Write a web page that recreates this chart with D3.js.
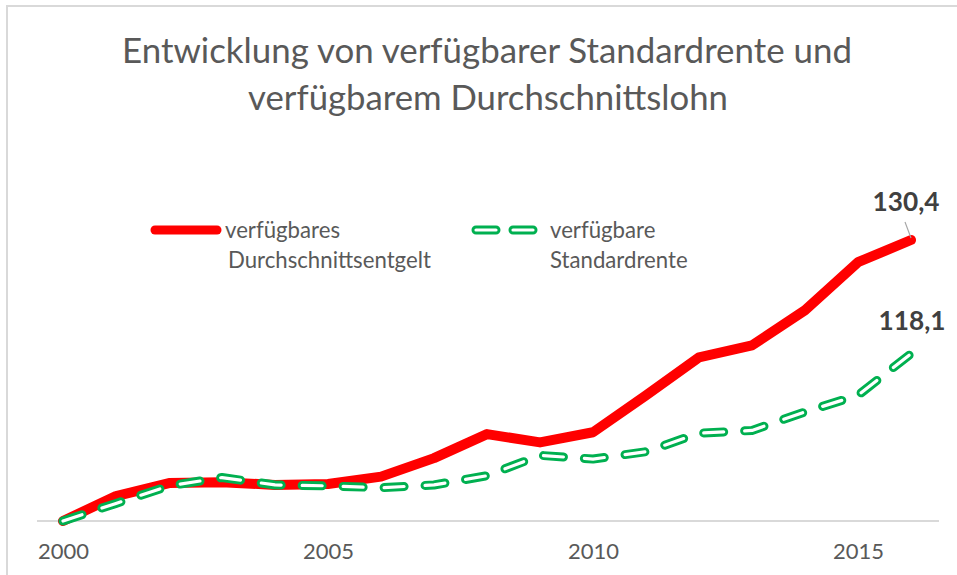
<!DOCTYPE html>
<html>
<head>
<meta charset="utf-8">
<script src="https://cdn.jsdelivr.net/npm/d3@7"></script>
<style>
  html, body { margin: 0; padding: 0; background: #fff; }
  svg { display: block; font-family: Lato, "Open Sans", sans-serif; }
</style>
</head>
<body>
<svg id="chart" width="957" height="575"></svg>
<script>
const years = [2000,2001,2002,2003,2004,2005,2006,2007,2008,2009,2010,2011,2012,2013,2014,2015,2016];
const entgelt = [100,102.7,104.1,104.2,103.9,104.0,104.8,106.8,109.4,108.5,109.6,113.6,117.7,119.0,122.8,128.0,130.4];
const rente   = [100,101.9,103.8,104.7,103.9,103.8,103.6,103.9,104.9,107.1,106.7,107.5,109.5,109.8,111.8,113.6,118.1];
const xTicks = [2000,2005,2010,2015];
const seriesNames = ["verfügbares Durchschnittsentgelt", "verfügbare Standardrente"];
const titleLines = ["Entwicklung von verfügbarer Standardrente und", "verfügbarem Durchschnittslohn"];
const fmt = v => d3.format(".1f")(v).replace(".", ",");

const svg = d3.select("#chart");
const grey = "#595959";

// outer frame
svg.append("rect").attr("x", 7).attr("y", 6).attr("width", 1000).attr("height", 1000)
  .attr("fill", "none").attr("stroke", "#d9d9d9").attr("stroke-width", 2);

function fit(sel, w) {
  const node = sel.node();
  const fs = parseFloat(sel.attr("font-size"));
  const len = node.getComputedTextLength();
  sel.attr("font-size", (fs * w / len).toFixed(2));
}

// title
const t1 = svg.append("text").attr("x", 487).attr("y", 63).attr("text-anchor", "middle")
  .attr("font-size", 32).attr("fill", grey).text(titleLines[0]);
fit(t1, 730);
const t2 = svg.append("text").attr("x", 488).attr("y", 110).attr("text-anchor", "middle")
  .attr("font-size", 32).attr("fill", grey).text(titleLines[1]);
fit(t2, 480);

const x = d3.scaleLinear().domain([2000, 2016]).range([63, 911]);
const y = d3.scaleLinear().domain([100, 130.4]).range([521, 240]);

// axis
svg.append("line").attr("x1", 37).attr("x2", 939).attr("y1", y(100)).attr("y2", y(100))
  .attr("stroke", "#d9d9d9").attr("stroke-width", 2);
const ax = svg.append("g").attr("transform", `translate(0,${y(100)})`)
  .call(d3.axisBottom(x).tickValues(xTicks).tickFormat(d3.format("d")).tickSize(0).tickPadding(20));
ax.select(".domain").remove();
ax.selectAll("text").attr("font-family", "Lato, sans-serif").attr("font-size", 22).attr("fill", grey)
  .attr("dy", "0.71em").attr("y", 22);

const line = d3.line().x((d, i) => x(years[i])).y(d => y(d));

// red line
svg.append("path").datum(entgelt).attr("d", line).attr("fill", "none")
  .attr("stroke", "#ff0000").attr("stroke-width", 10).attr("stroke-linejoin", "round").attr("stroke-linecap", "round");

// green hollow dashed line
const dash = "20 21";
svg.append("path").datum(rente).attr("d", line).attr("fill", "none")
  .attr("stroke", "#00b050").attr("stroke-width", 9).attr("stroke-dasharray", dash)
  .attr("stroke-linecap", "round").attr("stroke-linejoin", "round");
svg.append("path").datum(rente).attr("d", line).attr("fill", "none")
  .attr("stroke", "#ffffff").attr("stroke-width", 3.2).attr("stroke-dasharray", dash)
  .attr("stroke-linecap", "round").attr("stroke-linejoin", "round");

// legend
const lg = svg.append("g");
lg.append("line").attr("x1", 155).attr("x2", 217).attr("y1", 230).attr("y2", 230)
  .attr("stroke", "#ff0000").attr("stroke-width", 9).attr("stroke-linecap", "round");
const l1 = lg.append("text").attr("x", 225).attr("y", 238).attr("font-size", 20).attr("fill", grey).text("verfügbares");
fit(l1, 115);
const fsLeg = l1.attr("font-size");
lg.append("text").attr("x", 228).attr("y", 268).attr("font-size", fsLeg).attr("fill", grey).text("Durchschnittsentgelt");
lg.append("line").attr("x1", 476).attr("x2", 533).attr("y1", 230).attr("y2", 230)
  .attr("stroke", "#00b050").attr("stroke-width", 9).attr("stroke-dasharray", "20 17").attr("stroke-linecap", "round");
lg.append("line").attr("x1", 476).attr("x2", 533).attr("y1", 230).attr("y2", 230)
  .attr("stroke", "#fff").attr("stroke-width", 3.2).attr("stroke-dasharray", "20 17").attr("stroke-linecap", "round");
lg.append("text").attr("x", 550).attr("y", 238).attr("font-size", fsLeg).attr("fill", grey).text("verfügbare");
lg.append("text").attr("x", 550).attr("y", 268).attr("font-size", fsLeg).attr("fill", grey).text("Standardrente");

// data labels
const last = years.length - 1;
svg.append("line").attr("x1", x(years[last]) - 6).attr("y1", y(entgelt[last]) - 18)
  .attr("x2", x(years[last])).attr("y2", y(entgelt[last]) - 2)
  .attr("stroke", "#a6a6a6").attr("stroke-width", 1.2);
const d1 = svg.append("text").attr("x", 906).attr("y", 211).attr("text-anchor", "middle")
  .attr("font-size", 24).attr("font-weight", "bold").attr("fill", "#404040").text(fmt(entgelt[last]));
fit(d1, 67);
const d2 = svg.append("text").attr("x", 912).attr("y", 330).attr("text-anchor", "middle")
  .attr("font-size", d1.attr("font-size")).attr("font-weight", "bold").attr("fill", "#404040").text(fmt(rente[last]));
</script>
</body>
</html>
